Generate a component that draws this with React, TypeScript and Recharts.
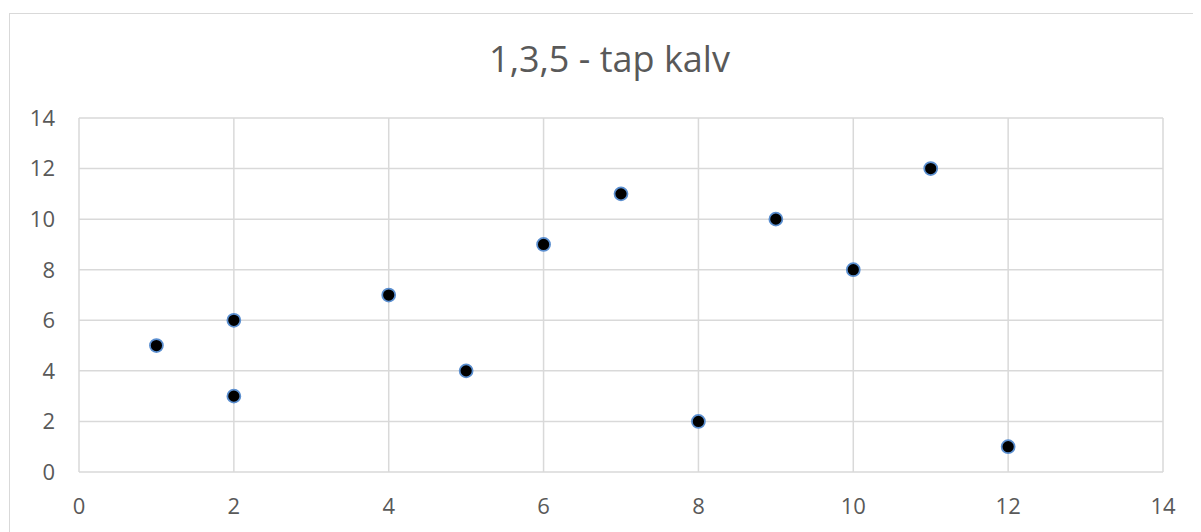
import React from "react";
import { ScatterChart, Scatter, XAxis, YAxis, CartesianGrid } from "recharts";

const title = "1,3,5 - tap kalv";
const xValues = [1, 2, 2, 4, 5, 6, 7, 8, 9, 10, 11, 12];
const yValues = [5, 6, 3, 7, 4, 9, 11, 2, 10, 8, 12, 1];
const xTicks = [0, 2, 4, 6, 8, 10, 12, 14];
const yTicks = [0, 2, 4, 6, 8, 10, 12, 14];

const data = xValues.map((x, i) => ({ x, y: yValues[i] }));

const FONT = "'Open Sans', 'Noto Sans', sans-serif";
const TEXT = "#595959";
const GRID = "#d9d9d9";

const Dot = (props: any) => {
  const { cx, cy } = props;
  if (cx == null || cy == null) return null;
  return <circle cx={cx} cy={cy} r={6.5} fill="#000000" stroke="#5b8fd0" strokeWidth={1.75} />;
};

export default function App() {
  return (
    <div style={{ position: "relative", width: 1193, height: 524, overflow: "hidden", background: "#fff" }}>
      <div
        style={{
          position: "absolute",
          left: 1,
          top: 5,
          width: 1300,
          height: 700,
          border: `1.5px solid ${GRID}`,
          boxSizing: "border-box",
        }}
      />
      <div
        style={{
          position: "absolute",
          left: 0,
          width: 1203,
          top: 31,
          textAlign: "center",
          fontFamily: FONT,
          fontSize: 36,
          color: TEXT,
          lineHeight: "40px",
          whiteSpace: "nowrap",
        }}
      >
        {title}
      </div>
      <div style={{ position: "absolute", left: 0, top: 0 }}>
        <ScatterChart width={1193} height={524} margin={{ top: 110, right: 38, bottom: 30, left: 31 }}>
          <CartesianGrid stroke={GRID} strokeWidth={1.5} />
          <XAxis
            type="number"
            dataKey="x"
            domain={[0, 14]}
            ticks={xTicks}
            axisLine={false}
            tickLine={false}
            height={30}
            tickMargin={20}
            tick={{ fill: TEXT, fontSize: 22, fontFamily: FONT }}
            interval={0}
          />
          <YAxis
            type="number"
            dataKey="y"
            domain={[0, 14]}
            ticks={yTicks}
            axisLine={false}
            tickLine={false}
            width={40}
            tickMargin={18}
            tick={{ fill: TEXT, fontSize: 22, fontFamily: FONT }}
            interval={0}
          />
          <Scatter data={data} isAnimationActive={false} shape={<Dot />} />
        </ScatterChart>
      </div>
    </div>
  );
}
